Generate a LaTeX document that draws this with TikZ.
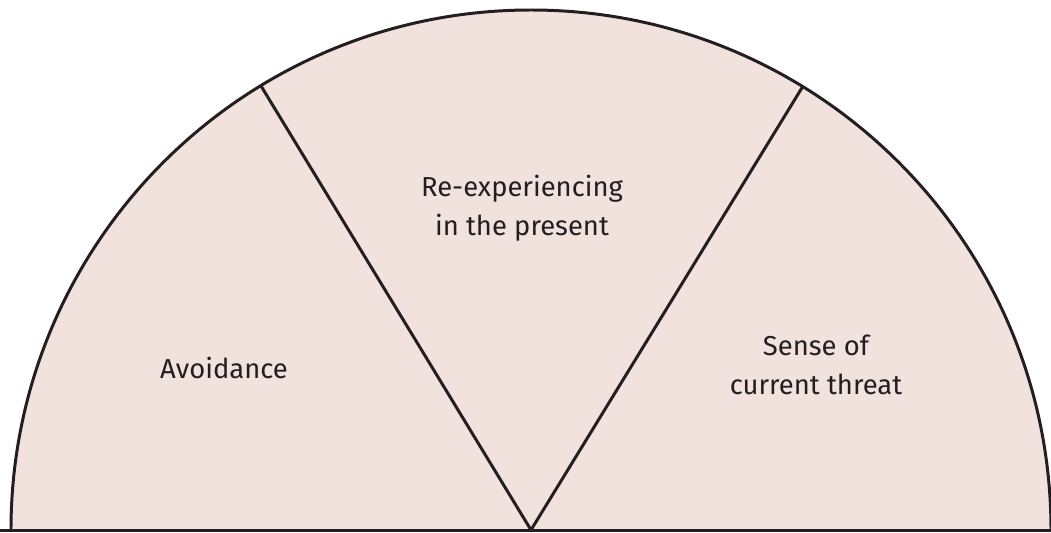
\documentclass[tikz,border=0pt]{standalone}
\usepackage{fontspec}
\setmainfont{Fira Sans}
\usetikzlibrary{positioning}
\definecolor{fanfill}{RGB}{242,226,222}
\definecolor{fanline}{RGB}{35,31,32}
\tikzset{
  fanedge/.style={draw=fanline, line width=1.7pt, line join=round},
  fanlabel/.style={font=\fontsize{15.6}{22.5}\selectfont, text=fanline, align=center, inner sep=0pt}
}

\begin{document}
\begin{tikzpicture}[x=0.02cm,y=0.02cm]
\useasboundingbox (-531,-2) rectangle (520,530);
\coordinate (hub) at (0,0);
\coordinate (lefttip) at (121.3:520);
\coordinate (righttip) at (58.5:520);
% half disc with its three sectors
\fill[fanfill] (-520,0) arc[start angle=180, end angle=0, radius=520] -- cycle;
\draw[fanedge] (-520,0) arc[start angle=180, end angle=0, radius=520];
\draw[fanedge] (-531,0) -- (520,0);
\draw[fanedge] (lefttip) -- (hub) -- (righttip);
\node[fanlabel] (avoid) at (-307,162) {Avoidance};
\node[fanlabel] (reexp) at (-9,322) {Re-experiencing\\in the present};
\node[fanlabel] (threat) at (285,165) {Sense of\\current threat};
\end{tikzpicture}
\end{document}
